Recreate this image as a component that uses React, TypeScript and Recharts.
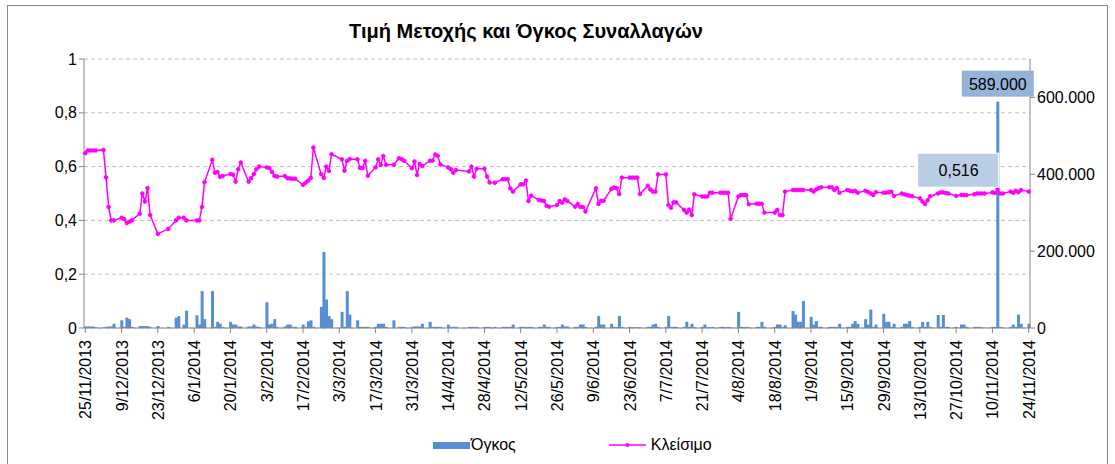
import React from 'react';
import {
  ComposedChart, Bar, Line, XAxis, YAxis, CartesianGrid, Legend, LabelList,
} from 'recharts';

// closing price per week, Mon..Fri (null = market closed)
const closeByWeek: (number | null)[][] = [
  [0.65, 0.66, 0.66, 0.66, 0.66],
  [0.662, 0.56, 0.45, 0.4, 0.4],
  [0.41, 0.405, 0.39, 0.395, 0.4],
  [0.425, 0.5, 0.47, 0.52, 0.42],
  [0.35, null, null, null, 0.368],
  [0.4, 0.41, null, 0.41, 0.4],
  [null, 0.4, 0.4, 0.45, 0.542],
  [0.625, 0.577, 0.58, 0.562, 0.565],
  [0.572, 0.57, 0.544, 0.59, 0.615],
  [0.544, 0.557, 0.572, 0.59, 0.6],
  [0.597, 0.595, 0.58, 0.565, 0.563],
  [0.565, 0.557, 0.556, 0.555, 0.555],
  [0.532, 0.54, 0.548, 0.558, 0.671],
  [0.572, 0.558, 0.6, 0.584, 0.646],
  [null, 0.627, 0.585, 0.621, 0.628],
  [0.627, 0.595, 0.595, 0.621, 0.566],
  [0.597, 0.627, 0.606, 0.639, 0.607],
  [0.607, null, 0.631, 0.628, 0.622],
  [0.594, 0.619, 0.569, 0.61, 0.602],
  [0.622, 0.622, 0.645, 0.64, 0.608],
  [0.597, 0.59, 0.577, 0.587, null],
  [null, 0.582, 0.6, 0.563, 0.592],
  [0.592, 0.563, 0.541, null, 0.54],
  [0.553, 0.553, 0.553, 0.519, 0.507],
  [0.534, 0.534, 0.548, 0.472, 0.492],
  [0.476, 0.474, 0.472, 0.454, 0.451],
  [0.457, 0.472, 0.466, 0.478, 0.472],
  [0.451, 0.461, 0.45, 0.45, 0.433],
  [null, 0.519, 0.461, 0.473, 0.473],
  [0.517, 0.522, 0.52, 0.498, 0.559],
  [0.559, 0.559, 0.559, 0.559, 0.498],
  [0.529, 0.515, 0.507, 0.507, 0.571],
  [0.571, 0.457, 0.447, 0.467, 0.467],
  [0.439, 0.429, 0.44, 0.42, 0.497],
  [0.489, 0.489, 0.489, 0.503, 0.503],
  [0.503, 0.503, 0.503, 0.503, 0.406],
  [0.489, 0.494, 0.494, 0.494, 0.46],
  [0.462, 0.462, 0.462, 0.429, null],
  [0.429, 0.439, 0.42, 0.42, 0.507],
  [0.513, 0.513, 0.513, 0.513, 0.513],
  [0.513, 0.507, 0.515, 0.52, 0.523],
  [0.523, 0.523, 0.513, 0.52, 0.503],
  [0.513, 0.51, 0.508, 0.51, 0.503],
  [0.51, 0.505, 0.5, 0.494, 0.505],
  [0.503, 0.503, 0.505, 0.507, 0.491],
  [0.5, 0.497, 0.494, 0.492, 0.49],
  [0.482, 0.47, 0.461, 0.475, 0.49],
  [0.5, 0.504, 0.504, 0.502, 0.5],
  [0.491, null, 0.495, 0.494, 0.494],
  [0.497, 0.5, 0.5, 0.5, 0.5],
  [0.504, 0.502, 0.516, 0.5, 0.5],
  [0.507, 0.503, 0.51, 0.505, 0.513],
  [0.507],
];

// traded volume per week, Mon..Fri
const volumeByWeek: (number | null)[][] = [
  [4000, 4000, 4000, 4000, 2000],
  [2000, 3000, 4000, 4000, 11000],
  [20000, 3000, 27000, 23000, 3000],
  [5000, 5000, 5000, 5000, 3000],
  [5000, null, null, null, 3000],
  [27000, 31000, null, 9000, 45000],
  [null, 33000, 9000, 96000, 23000],
  [96000, 3000, 16000, 11000, 3000],
  [16000, 9000, 9000, 4000, 4000],
  [4000, 4000, 9000, 4000, 3000],
  [67000, 9000, 11000, 23000, 3000],
  [4000, 9000, 9000, 3000, 3000],
  [9000, 3000, 17000, 20000, 3000],
  [55000, 198000, 74000, 31000, 23000],
  [null, 42000, 3000, 96000, 35000],
  [20000, 3000, 3000, 3000, 3000],
  [3000, 11000, 11000, 11000, 3000],
  [20000, null, 3000, 3000, 3000],
  [3000, 4000, 4000, 4000, 11000],
  [16000, 3000, 3000, 3000, 3000],
  [9000, 3000, 3000, 3000, null],
  [null, 3000, 3000, 3000, 3000],
  [3000, 3000, 3000, null, 3000],
  [3000, 3000, 3000, 3000, 9000],
  [3000, 3000, 2000, 3000, 3000],
  [3000, 3000, 9000, 3000, 3000],
  [3000, 3000, 9000, 4000, 4000],
  [3000, 3000, 9000, 9000, 3000],
  [null, 3000, 31000, 9000, 9000],
  [11000, 3000, 3000, 31000, 3000],
  [3000, 2000, 2000, 2000, 2000],
  [3000, 3000, 9000, 11000, 3000],
  [3000, 31000, 3000, 3000, 3000],
  [3000, 16000, 3000, 11000, 2000],
  [3000, 9000, 2000, 2000, 3000],
  [3000, 3000, 2000, 3000, 2000],
  [42000, 3000, 2000, 3000, 2000],
  [3000, 3000, 16000, 3000, null],
  [3000, 9000, 9000, 3000, 7000],
  [44000, 35000, 16000, 16000, 70000],
  [29000, 9000, 18000, 3000, 3000],
  [3000, 3000, 3000, 3000, 11000],
  [3000, 3000, 11000, 18000, 11000],
  [23000, 9000, 48000, 3000, 9000],
  [37000, 16000, 16000, 3000, 11000],
  [3000, 11000, 11000, 18000, 3000],
  [3000, 16000, 3000, 16000, 3000],
  [34000, 3000, 34000, 3000, 3000],
  [3000, null, 9000, 9000, 3000],
  [3000, 3000, 3000, 1000, 1000],
  [3000, 3000, 589000, 3000, 1000],
  [3000, 9000, 3000, 35000, 11000],
  [11000],
];

const priceTicks = [0, 0.2, 0.4, 0.6, 0.8, 1];
const volumeTicks = [0, 200000, 400000, 600000];

const FONT = '"Liberation Sans", Arial, sans-serif';
const BAR_COLOR = '#558ED5';
const LINE_COLOR = '#FF00FF';
const AXIS_COLOR = '#868686';

// one row per calendar day so the axis keeps the weekend gaps
const data: { label: string; close: number | null; vol: number | null }[] = [];
for (let i = 0; i < 365; i++) {
  const d = new Date(2013, 10, 25 + i);
  const week = Math.floor(i / 7);
  const dow = i % 7;
  const row = { label: `${d.getDate()}/${d.getMonth() + 1}/${d.getFullYear()}`, close: null as number | null, vol: null as number | null };
  if (dow < 5) {
    row.close = closeByWeek[week]?.[dow] ?? null;
    row.vol = volumeByWeek[week]?.[dow] ?? null;
  }
  data.push(row);
}

const maxVol = Math.max(...data.map((r) => r.vol ?? 0));
const maxIdx = data.findIndex((r) => r.vol === maxVol);

const fmtPrice = (v: number) => String(v).replace('.', ',');
const fmtVol = (v: number) => (v === 0 ? '0' : `${v / 1000}.000`);

const DateTick = (props: any) => {
  const { x, y, payload } = props;
  return (
    <text
      x={x + 6}
      y={y + 5}
      transform={`rotate(-90 ${x + 6} ${y + 5})`}
      textAnchor="end"
      fontSize={16}
      fontFamily={FONT}
      fill="#000"
    >
      {payload.value}
    </text>
  );
};

const VolumeLabel = (props: any) => {
  const { x, y, width, value } = props;
  if (value !== maxVol) return null;
  const cx = x + width / 2;
  return (
    <g>
      <rect x={cx - 36} y={y - 31} width={72} height={26} fill="#95B3D7" />
      <text x={cx} y={y - 12} textAnchor="middle" fontSize={16} fontFamily={FONT} fill="#000">
        {fmtVol(value)}
      </text>
    </g>
  );
};

const CloseLabel = (props: any) => {
  const { x, y, index, value } = props;
  if (index !== maxIdx || value == null) return null;
  return (
    <g>
      <rect x={x - 80} y={y - 36} width={81} height={34} fill="#B9CDE5" stroke="#fff" />
      <text x={x - 39} y={y - 13} textAnchor="middle" fontSize={16} fontFamily={FONT} fill="#000">
        {fmtPrice(value)}
      </text>
    </g>
  );
};

const LegendContent = () => (
  <div style={{ display: 'flex', alignItems: 'center', height: 24, paddingLeft: 425, fontFamily: FONT, fontSize: 16 }}>
    <div style={{ width: 37, height: 7, background: BAR_COLOR, marginRight: 1 }} />
    <span>Όγκος</span>
    <svg width={40} height={10} style={{ marginLeft: 93, marginRight: 2 }}>
      <line x1={0} y1={5} x2={37} y2={5} stroke={LINE_COLOR} strokeWidth={1.5} />
      <circle cx={18.5} cy={5} r={2} fill={LINE_COLOR} />
    </svg>
    <span>Κλείσιμο</span>
  </div>
);

export default function App() {
  return (
    <div
      style={{
        position: 'absolute', left: 7, top: 5, width: 1101, height: 460,
        border: `1px solid ${AXIS_COLOR}`, boxSizing: 'border-box', background: '#fff',
      }}
    >
      <div
        style={{
          position: 'absolute', left: 0, width: 1036, top: 14, textAlign: 'center',
          fontFamily: FONT, fontSize: 20, fontWeight: 'bold',
        }}
      >
        Τιμή Μετοχής και Όγκος Συναλλαγών
      </div>
      <ComposedChart
        width={1099}
        height={458}
        data={data}
        margin={{ top: 53, right: 0, bottom: 7, left: 0 }}
        barCategoryGap={0}
        barGap={0}
      >
        <CartesianGrid yAxisId="p" vertical={false} stroke="#BFBFBF" strokeDasharray="4 3" />
        <XAxis
          dataKey="label"
          interval={13}
          height={105}
          tick={<DateTick />}
          tickLine={{ stroke: AXIS_COLOR }}
          axisLine={{ stroke: AXIS_COLOR }}
          tickSize={5}
        />
        <YAxis
          yAxisId="p"
          domain={[0, 1]}
          ticks={priceTicks}
          tickFormatter={fmtPrice}
          width={76}
          tick={{ fill: '#000', fontSize: 16, fontFamily: FONT }}
          tickLine={{ stroke: AXIS_COLOR }}
          axisLine={{ stroke: AXIS_COLOR }}
          tickSize={5}
        />
        <YAxis
          yAxisId="v"
          orientation="right"
          domain={[0, 700000]}
          ticks={volumeTicks}
          tickFormatter={fmtVol}
          width={77}
          tick={{ fill: '#000', fontSize: 16, fontFamily: FONT }}
          tickLine={{ stroke: AXIS_COLOR }}
          axisLine={{ stroke: AXIS_COLOR }}
          tickSize={5}
        />
        <Bar yAxisId="v" dataKey="vol" name="Όγκος" fill={BAR_COLOR} isAnimationActive={false}>
          <LabelList dataKey="vol" content={<VolumeLabel />} />
        </Bar>
        <Line
          yAxisId="p"
          dataKey="close"
          name="Κλείσιμο"
          type="linear"
          stroke={LINE_COLOR}
          strokeWidth={1.5}
          dot={{ r: 1.8, fill: LINE_COLOR, stroke: LINE_COLOR, strokeWidth: 1 }}
          activeDot={false}
          connectNulls
          isAnimationActive={false}
          label={<CloseLabel />}
        />
        <Legend verticalAlign="bottom" height={24} content={<LegendContent />} />
      </ComposedChart>
    </div>
  );
}
